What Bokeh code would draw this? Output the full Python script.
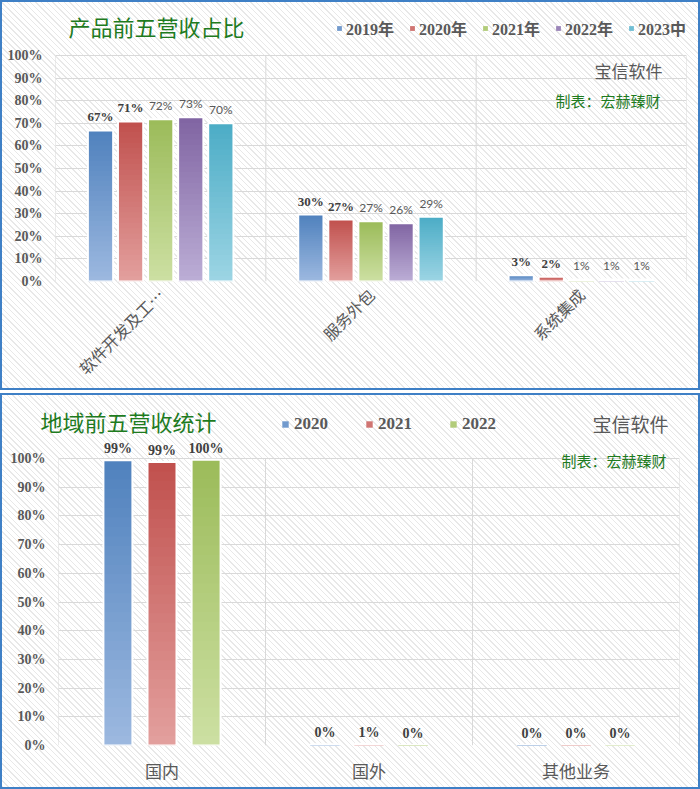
import numpy as np
from bokeh.plotting import figure
from bokeh.models import (ColumnDataSource, FactorRange, Range1d, LabelSet, Label,
                          Legend, LegendItem, FixedTicker, PrintfTickFormatter)
from bokeh.transform import dodge
from bokeh.layouts import column
from bokeh.embed import file_html
from bokeh.resources import INLINE
from bokeh.core.properties import value

# ---------------- data ----------------
cats1 = ["软件开发及工…", "服务外包", "系统集成"]
series1 = ["2019年", "2020年", "2021年", "2022年", "2023中"]
v2019 = [66.8, 29.6, 2.8]
v2020 = [70.8, 27.4, 2.1]
v2021 = [71.8, 26.6, 0.9]
v2022 = [72.6, 25.8, 0.9]
v2023 = [70.0, 28.6, 0.9]
values1 = [v2019, v2020, v2021, v2022, v2023]

cats2 = ["国内", "国外", "其他业务"]
series2 = ["2020", "2021", "2022"]
r2020 = [99.4, 0.4, 0.2]
r2021 = [98.8, 0.6, 0.1]
r2022 = [99.6, 0.2, 0.1]
values2 = [r2020, r2021, r2022]

yticks = list(range(0, 101, 10))

# ---------------- styles ----------------
DARK = ["#4f81bd", "#c0504d", "#9bbb59", "#8064a2", "#4bacc6"]
LIGHT = ["#9db9e0", "#e3a09e", "#cde0a3", "#bcaed6", "#9dd5e4"]
GREY = "#595959"
GREEN = "#1e7b1e"
NUM_FONT = "Liberation Serif"
CJK_FONT = "Noto Sans CJK SC"
MIX_FONT = "Liberation Serif, Noto Sans CJK SC"
PANEL_STYLE = {
    "outline": "2px solid #3f80c6",
    "outline-offset": "-2px",
    "background": "repeating-linear-gradient(45deg, #ffffff 0px, #ffffff 3px, #e8e8e8 3px, #e8e8e8 4px)",
}


def hexmix(a, b, t):
    ca = np.array([int(a[i:i + 2], 16) for i in (1, 3, 5)], float)
    cb = np.array([int(b[i:i + 2], 16) for i in (1, 3, 5)], float)
    c = ca + (cb - ca) * t
    return "#%02x%02x%02x" % tuple(int(round(x)) for x in c)


def make_header(height):
    h = figure(x_range=Range1d(0, 700), y_range=Range1d(0, height), width=700, height=height,
               output_backend="svg", toolbar_location=None, x_axis_type=None, y_axis_type=None,
               min_border=0, min_border_left=0, min_border_right=0, min_border_top=0,
               min_border_bottom=0)
    h.frame_align = False
    h.background_fill_color = None
    h.border_fill_color = None
    h.outline_line_color = None
    h.grid.visible = False
    return h


def make_fig(cats, height, mb, yend):
    p = figure(x_range=FactorRange(factors=cats, range_padding=0), y_range=Range1d(0, yend),
               width=700, height=height, output_backend="svg", toolbar_location=None,
               min_border_left=mb[0], min_border_right=mb[1], min_border_top=mb[2],
               min_border_bottom=mb[3])
    p.frame_align = False
    p.background_fill_color = None
    p.border_fill_color = None
    p.outline_line_color = None
    p.xgrid.grid_line_color = None
    p.ygrid.grid_line_color = "#d9d9d9"
    p.ygrid.ticker = FixedTicker(ticks=yticks)
    p.yaxis.ticker = FixedTicker(ticks=yticks)
    p.yaxis.formatter = PrintfTickFormatter(format="%d%%")
    for ax in (p.xaxis, p.yaxis):
        ax.axis_line_color = None
        ax.major_tick_line_color = None
        ax.minor_tick_line_color = None
        ax.major_tick_out = 0
        ax.major_tick_in = 0
    p.yaxis.major_label_text_font = NUM_FONT
    p.yaxis.major_label_text_font_style = "bold"
    p.yaxis.major_label_text_font_size = "14px"
    p.yaxis.major_label_text_color = GREY
    p.yaxis.major_label_standoff = 13
    p.xaxis.major_label_text_font = CJK_FONT
    p.xaxis.major_label_text_color = GREY
    bounds = list(range(len(cats) + 1))
    p.segment(x0=bounds, x1=bounds, y0=[yticks[0]] * len(bounds), y1=[yticks[-1]] * len(bounds),
              line_color="#d9d9d9", line_width=1, level="underlay")
    return p


def draw_bars(p, cats, vals, idx, off, w, n=30):
    xs, bots, tops, cols = [], [], [], []
    for c, v in zip(cats, vals):
        for i in range(n):
            xs.append(c)
            bots.append(v * i / n)
            tops.append(v)
            cols.append(hexmix(LIGHT[idx], DARK[idx], (i + 0.5) / n))
    seg = ColumnDataSource(dict(cat=xs, bottom=bots, top=tops, color=cols))
    p.vbar(x=dodge("cat", off, range=p.x_range), bottom="bottom", top="top", width=w,
           fill_color="color", line_color=None, source=seg)
    src = ColumnDataSource(dict(cat=cats, val=vals, lab=["%d%%" % int(round(v)) for v in vals]))
    p.vbar(x=dodge("cat", off, range=p.x_range), top="val", width=w, fill_color=None,
           line_color="white", line_width=2, source=src)
    return src


def legend_items(h, series):
    # legend proxies: zero-height bars, only their swatch is shown in the legend
    items = []
    for i, s in enumerate(series):
        r = h.vbar(x=[i], top=[0], bottom=[0], width=0, fill_color=hexmix(LIGHT[i], DARK[i], 0.55),
                   line_color=None)
        items.append(LegendItem(label=s, renderers=[r]))
    return items


# ---------------- chart 1 ----------------
H1_HEAD, H1_BODY = 45, 345
FRAME1 = H1_BODY - 107          # pixels of frame height
Y1END = 100.0 * FRAME1 / 228.0  # 0..100 spans 228 px
h1 = make_header(H1_HEAD)
h1.add_layout(Label(x=68, y=20, x_units="screen", y_units="screen", text="产品前五营收占比",
                    text_font=CJK_FONT, text_font_size="22px", text_color=GREEN,
                    text_baseline="middle", text_align="left"))
lg1 = Legend(items=legend_items(h1, series1), orientation="horizontal", location=(336, 5),
             glyph_width=6, glyph_height=6, label_height=6, label_standoff=4, spacing=15,
             padding=0, margin=0, border_line_color=None, background_fill_color=None,
             label_text_font=MIX_FONT, label_text_font_style="bold",
             label_text_font_size="16px", label_text_color=GREY)
h1.add_layout(lg1)

p1 = make_fig(cats1, H1_BODY, (55, 14, 0, 107), Y1END)
p1.xaxis.major_label_orientation = np.pi / 4
p1.xaxis.major_label_text_font_size = "16px"
p1.xaxis.major_label_standoff = 10
step1, w1 = 0.143, 0.12
for i, (s, vals) in enumerate(zip(series1, values1)):
    off = (i - 2) * step1
    src = draw_bars(p1, cats1, vals, i, off, w1)
    if i < 2:
        font, style, size, col = NUM_FONT, "bold", "13px", "#404040"
    else:
        font, style, size, col = "Lato", "normal", "12px", GREY
    p1.add_layout(LabelSet(x=dodge("cat", off, range=p1.x_range), y="val", text="lab",
                           source=src, text_align="center", text_baseline="alphabetic",
                           y_offset=9, text_font=value(font), text_font_style=style,
                           text_font_size=value(size), text_color=col))

p1.add_layout(Label(x=607, y=211, x_units="screen", y_units="screen", text="宝信软件",
                    text_font=CJK_FONT, text_font_size="17px", text_color=GREY,
                    text_baseline="middle", text_align="right"))
p1.add_layout(Label(x=605, y=181, x_units="screen", y_units="screen", text="制表：宏赫臻财",
                    text_font=CJK_FONT, text_font_size="15px", text_color=GREEN,
                    text_baseline="middle", text_align="right"))

# ---------------- chart 2 ----------------
H2_HEAD, H2_BODY = 45, 351
FRAME2 = H2_BODY - 44
Y2END = 100.0 * FRAME2 / 287.0
h2 = make_header(H2_HEAD)
h2.add_layout(Label(x=40, y=18, x_units="screen", y_units="screen", text="地域前五营收统计",
                    text_font=CJK_FONT, text_font_size="22px", text_color=GREEN,
                    text_baseline="middle", text_align="left"))
h2.add_layout(Label(x=668, y=15, x_units="screen", y_units="screen", text="宝信软件",
                    text_font=CJK_FONT, text_font_size="19px", text_color=GREY,
                    text_baseline="middle", text_align="right"))
lg2 = Legend(items=legend_items(h2, series2), orientation="horizontal", location=(281, 4),
             glyph_width=8, glyph_height=8, label_height=8, label_standoff=5, spacing=37,
             padding=0, margin=0, border_line_color=None, background_fill_color=None,
             label_text_font=NUM_FONT, label_text_font_style="bold",
             label_text_font_size="17px", label_text_color=GREY)
h2.add_layout(lg2)

p2 = make_fig(cats2, H2_BODY, (58, 21, 0, 44), Y2END)
p2.xaxis.major_label_text_font_size = "17px"
p2.xaxis.major_label_standoff = 12
step2, w2 = 0.213, 0.14
for i, (s, vals) in enumerate(zip(series2, values2)):
    off = (i - 1) * step2
    src = draw_bars(p2, cats2, vals, i, off, w2)
    p2.add_layout(LabelSet(x=dodge("cat", off, range=p2.x_range), y="val", text="lab",
                           source=src, text_align="center", text_baseline="alphabetic",
                           y_offset=7, text_font=value(NUM_FONT), text_font_style="bold",
                           text_font_size=value("14px"), text_color="#404040"))
p2.add_layout(Label(x=608, y=285, x_units="screen", y_units="screen", text="制表：宏赫臻财",
                    text_font=CJK_FONT, text_font_size="15px", text_color=GREEN,
                    text_baseline="middle", text_align="right"))

panel1 = column(h1, p1, spacing=0, styles=PANEL_STYLE)
panel2 = column(h2, p2, spacing=0, styles=PANEL_STYLE)
layout = column(panel1, panel2, spacing=3)
open("out.html", "w").write(file_html(layout, INLINE))
